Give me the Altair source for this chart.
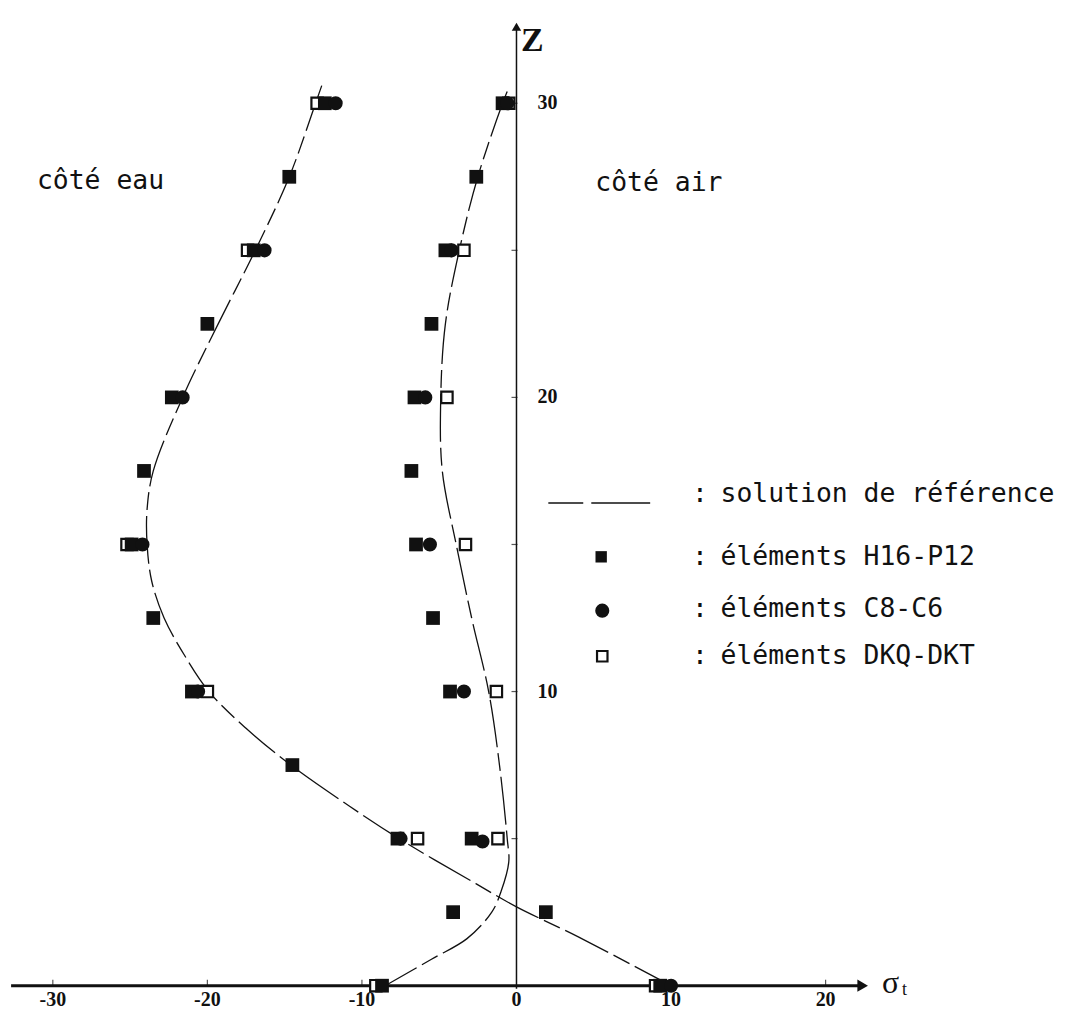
import altair as alt
import pandas as pd

# ---------------- data ----------------
# reference solution, water side (cote eau)
water_curve_z = [30.6, 30, 27.5, 25, 22.5, 20, 17.5, 16.2, 15, 13.75, 12.5, 11.25, 10, 8.75, 7.5, 6.1, 5, 3.46, 2.68, 1.66, 0]
water_curve_s = [-12.6, -13.0, -14.7, -16.9, -19.3, -21.6, -23.5, -23.9, -23.9, -23.6, -22.8, -21.5, -19.9, -17.5, -14.6, -10.8, -7.6, -2.6, 0.0, 4.0, 10.0]
# reference solution, air side (cote air)
air_curve_z = [30.4, 30, 27.5, 25, 22.5, 20, 17.5, 15, 12.5, 10, 7.5, 5, 4.2, 3.2, 2.5, 1.6, 0.9, 0]
air_curve_s = [-0.6, -0.9, -2.5, -3.7, -4.6, -4.9, -4.8, -3.9, -2.9, -1.8, -1.1, -0.6, -0.5, -1.0, -1.6, -3.2, -5.5, -8.5]

# elements H16-P12 (filled squares)
h16_water_z = [30, 27.5, 25, 22.5, 20, 17.5, 15, 12.5, 10, 7.5, 5, 2.5, 0]
h16_water_s = [-12.4, -14.7, -17.0, -20.0, -22.3, -24.1, -24.9, -23.5, -21.0, -14.5, -7.7, 1.9, 9.3]
h16_air_z = [30, 27.5, 25, 22.5, 20, 17.5, 15, 12.5, 10, 5, 2.5, 0]
h16_air_s = [-0.9, -2.6, -4.6, -5.5, -6.6, -6.8, -6.5, -5.4, -4.3, -2.9, -4.1, -8.7]

# elements C8-C6 (filled circles)
c8_water_z = [30, 25, 20, 15, 10, 5, 0]
c8_water_s = [-11.7, -16.3, -21.6, -24.2, -20.6, -7.5, 10.0]
c8_air_z = [30, 25, 20, 15, 10, 4.9]
c8_air_s = [-0.6, -4.2, -5.9, -5.6, -3.4, -2.2]

# elements DKQ-DKT (open squares)
dkq_water_z = [30, 25, 15, 10, 5, 0]
dkq_water_s = [-12.9, -17.4, -25.2, -20.0, -6.4, 9.0]
dkq_air_z = [30, 25, 20, 15, 10, 5, 0]
dkq_air_s = [-0.5, -3.4, -4.5, -3.3, -1.3, -1.2, -9.1]

x_ticks = [-30, -20, -10, 10, 20]
x_tick_labels = ["-30", "-20", "-10", "0", "10", "20"]
x_tick_label_vals = [-30, -20, -10, 0, 10, 20]
z_ticks = [5, 10, 15, 20, 25, 30]
z_tick_labels = ["10", "20", "30"]
z_tick_label_vals = [10, 20, 30]

legend_labels = ["solution de référence", "éléments H16-P12", "éléments C8-C6", "éléments DKQ-DKT"]
side_labels = ["côté eau", "côté air"]

# ---------------- scales ----------------
W, H = 1060, 1005
xs = alt.Scale(domain=[-32.9, 35.49], nice=False, zero=False)
ys = alt.Scale(domain=[-0.88, 33.19], nice=False, zero=False)
X = lambda f="s": alt.X(f"{f}:Q", scale=xs, axis=None)
Y = lambda f="z": alt.Y(f"{f}:Q", scale=ys, axis=None)

INK = "#111111"
MONO = "DejaVu Sans Mono"
SERIF = "Liberation Serif"

# ---------------- curves ----------------
curves = pd.concat([
    pd.DataFrame({"s": water_curve_s, "z": water_curve_z, "c": "eau", "i": range(len(water_curve_s))}),
    pd.DataFrame({"s": air_curve_s, "z": air_curve_z, "c": "air", "i": range(len(air_curve_s))}),
])
curve_layer = alt.Chart(curves).mark_line(
    color=INK, strokeWidth=1.3, strokeDash=[48, 6, 18, 6], interpolate="catmull-rom"
).encode(x=X(), y=Y(), detail="c:N", order="i:Q")

# ---------------- points ----------------
def pts(s, z):
    return pd.DataFrame({"s": s, "z": z})

dkq = pd.concat([pts(dkq_water_s, dkq_water_z), pts(dkq_air_s, dkq_air_z)])
h16 = pd.concat([pts(h16_water_s, h16_water_z), pts(h16_air_s, h16_air_z)])
c8 = pd.concat([pts(c8_water_s, c8_water_z), pts(c8_air_s, c8_air_z)])

dkq_layer = alt.Chart(dkq).mark_point(
    shape="square", filled=True, fill="white", stroke=INK, strokeWidth=2.2, size=130, opacity=1
).encode(x=X(), y=Y())
h16_layer = alt.Chart(h16).mark_point(
    shape="square", filled=True, color=INK, size=190, opacity=1
).encode(x=X(), y=Y())
c8_layer = alt.Chart(c8).mark_point(
    shape="circle", filled=True, color=INK, size=200, opacity=1
).encode(x=X(), y=Y())

# ---------------- axes drawn at zero ----------------
haxis = alt.Chart(pd.DataFrame({"s": [-32.7], "s2": [22.4], "z": [0]})).mark_rule(
    color=INK, strokeWidth=3).encode(x=X(), x2="s2:Q", y=Y())
vaxis = alt.Chart(pd.DataFrame({"s": [0], "z": [-0.1], "z2": [32.6]})).mark_rule(
    color=INK, strokeWidth=1.5).encode(x=X(), y=Y(), y2="z2:Q")
harrow = alt.Chart(pd.DataFrame({"s": [22.4], "z": [0]})).mark_point(
    shape="triangle-right", filled=True, color=INK, size=150, opacity=1).encode(x=X(), y=Y())
varrow = alt.Chart(pd.DataFrame({"s": [0], "z": [32.6]})).mark_point(
    shape="triangle-up", filled=True, color=INK, size=90, opacity=1).encode(x=X(), y=Y())

xtick_layer = alt.Chart(pd.DataFrame({"s": x_ticks, "z": [0] * len(x_ticks)})).mark_tick(
    color=INK, orient="vertical", size=6, thickness=1.2, yOffset=-3).encode(x=X(), y=Y())
ztick_layer = alt.Chart(pd.DataFrame({"s": [0] * len(z_ticks), "z": z_ticks})).mark_tick(
    color=INK, orient="horizontal", size=6, thickness=1.2, xOffset=-2).encode(x=X(), y=Y())

xlab_layer = alt.Chart(pd.DataFrame({"s": x_tick_label_vals, "z": [0] * 6, "t": x_tick_labels})).mark_text(
    font=SERIF, fontWeight="bold", fontSize=20, color=INK, baseline="middle", align="center", dy=14
).encode(x=X(), y=Y(), text="t:N")
zlab_layer = alt.Chart(pd.DataFrame({"s": [2.0] * 3, "z": z_tick_label_vals, "t": z_tick_labels})).mark_text(
    font=SERIF, fontWeight="bold", fontSize=20, color=INK, baseline="middle", align="center"
).encode(x=X(), y=Y(), text="t:N")

zname = alt.Chart(pd.DataFrame({"s": [0.3], "z": [32.1], "t": ["Z"]})).mark_text(
    font=SERIF, fontWeight="bold", fontSize=34, color=INK, baseline="middle", align="left"
).encode(x=X(), y=Y(), text="t:N")
sname = alt.Chart(pd.DataFrame({"s": [24.2], "z": [0.1], "t": ["σ"]})).mark_text(
    font=SERIF, fontSize=32, color=INK, baseline="middle", align="center"
).encode(x=X(), y=Y(), text="t:N")
sname_sub = alt.Chart(pd.DataFrame({"s": [25.1], "z": [-0.15], "t": ["t"]})).mark_text(
    font=SERIF, fontSize=18, color=INK, baseline="middle", align="center"
).encode(x=X(), y=Y(), text="t:N")

# ---------------- side labels ----------------
side_layer = alt.Chart(pd.DataFrame({"s": [-31.03, 5.1], "z": [27.36, 27.29], "t": side_labels})).mark_text(
    font=MONO, fontSize=26.5, color=INK, baseline="middle", align="left"
).encode(x=X(), y=Y(), text="t:N")

# ---------------- legend (drawn) ----------------
leg_z = [16.71, 14.58, 12.80, 11.22]
leg_text = alt.Chart(pd.DataFrame({"s": [13.2] * 4, "z": leg_z, "t": legend_labels})).mark_text(
    font=MONO, fontSize=26.5, color=INK, baseline="middle", align="left"
).encode(x=X(), y=Y(), text="t:N")
leg_colon = alt.Chart(pd.DataFrame({"s": [11.87] * 4, "z": leg_z, "t": [":"] * 4})).mark_text(
    font=MONO, fontSize=26.5, color=INK, baseline="middle", align="center"
).encode(x=X(), y=Y(), text="t:N")
leg_line = alt.Chart(pd.DataFrame({"s": [2.06, 4.84], "s2": [4.32, 8.65], "z": [16.41, 16.41]})).mark_rule(
    color=INK, strokeWidth=1.5).encode(x=X(), x2="s2:Q", y=Y())
leg_sq = alt.Chart(pd.DataFrame({"s": [5.48], "z": [14.58]})).mark_point(
    shape="square", filled=True, color=INK, size=130, opacity=1).encode(x=X(), y=Y())
leg_ci = alt.Chart(pd.DataFrame({"s": [5.55], "z": [12.75]})).mark_point(
    shape="circle", filled=True, color=INK, size=200, opacity=1).encode(x=X(), y=Y())
leg_os = alt.Chart(pd.DataFrame({"s": [5.55], "z": [11.2]})).mark_point(
    shape="square", filled=True, fill="white", stroke=INK, strokeWidth=2.2, size=110, opacity=1).encode(x=X(), y=Y())

chart = alt.layer(
    haxis, vaxis, harrow, varrow, xtick_layer, ztick_layer,
    curve_layer, dkq_layer, h16_layer, c8_layer,
    xlab_layer, zlab_layer, zname, sname, sname_sub, side_layer,
    leg_line, leg_sq, leg_ci, leg_os, leg_colon, leg_text,
).properties(
    width=W, height=H, padding=0,
    autosize=alt.AutoSizeParams(type="none"),
    background="white",
).configure_view(strokeWidth=0)

chart.save("out.html", embed_options={"renderer": "svg", "actions": False})
